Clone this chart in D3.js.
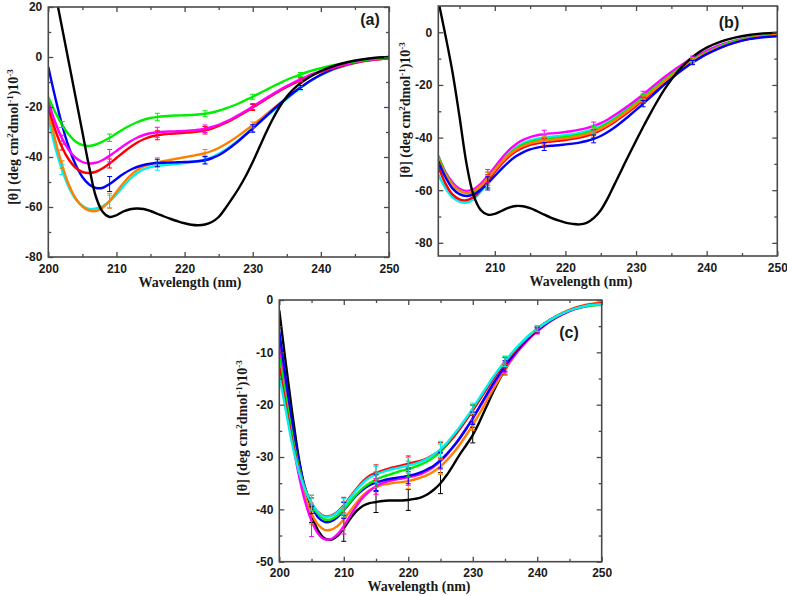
<!DOCTYPE html>
<html><head><meta charset="utf-8">
<script src="https://cdn.jsdelivr.net/npm/d3@7"></script>
<style>body{margin:0;background:#fff}</style>
</head><body>
<svg id="chart" width="787" height="596"></svg>
<script>
// ---------- DATA ----------
const wlA = [200,201,202,203,204,205,206,207,208,209,210,211,212,213,214,215,216,217,218,219,220,221,222,223,224,225,226,227,228,229,230,231,232,233,234,235,236,237,238,239,240,242,244,246,248,250];
const wlB = [202,203,204,205,206,207,208,209,210,211,212,213,214,215,216,217,218,219,220,221,222,223,224,225,226,227,228,229,230,231,232,233,234,235,236,237,238,239,240,242,244,246,248,250];
const wlC = wlA.slice();

const aBlack   = [40,26,12,-2,-16,-30,-44,-56,-62,-64,-63.3,-61.8,-60.9,-60.6,-60.8,-61.6,-62.7,-63.8,-64.8,-65.7,-66.5,-67.1,-67.3,-67,-66,-64,-60.5,-56.5,-52.3,-47.5,-42,-36,-30,-24.5,-19.7,-15.8,-12.8,-10.5,-8.6,-7,-5.6,-3.5,-2,-1,-0.3,0];
const aGreen   = [-16,-22,-27,-31,-33.8,-35.2,-35.6,-35,-33.8,-32.3,-30.6,-28.9,-27.4,-26.1,-25.1,-24.4,-24,-23.7,-23.5,-23.4,-23.3,-23.2,-23,-22.7,-22.2,-21.5,-20.6,-19.6,-18.5,-17.2,-15.9,-14.5,-13.1,-11.7,-10.4,-9.1,-8,-7,-6,-5.2,-4.5,-3.2,-2.2,-1.3,-0.6,-0.2];
const aMagenta = [-17.5,-26,-32.5,-37.2,-40.3,-42,-42.6,-42.3,-41.2,-39.5,-37.6,-35.6,-33.8,-32.3,-31.2,-30.5,-30.1,-29.9,-29.8,-29.7,-29.6,-29.4,-29.1,-28.7,-28,-27.1,-25.9,-24.6,-23.1,-21.5,-19.8,-18.1,-16.4,-14.7,-13.1,-11.6,-10.2,-8.9,-7.7,-6.6,-5.7,-4,-2.7,-1.6,-0.9,-0.5];
const aRed     = [-20,-29,-36,-41,-44.3,-46,-46.4,-45.9,-44.5,-42.6,-40.4,-38.2,-36.1,-34.3,-32.9,-31.9,-31.3,-30.9,-30.7,-30.5,-30.3,-30.1,-29.8,-29.3,-28.6,-27.6,-26.4,-25,-23.5,-21.9,-20.2,-18.5,-16.8,-15.1,-13.5,-12,-10.6,-9.2,-8,-6.9,-5.9,-4.2,-2.8,-1.7,-1,-0.5];
const aBlue    = [-4,-16,-27,-36,-43,-48,-51,-52.4,-52.3,-50.8,-48.8,-46.8,-45.2,-44,-43.2,-42.7,-42.4,-42.3,-42.2,-42.1,-42,-41.9,-41.7,-41.3,-40.5,-39.3,-37.6,-35.6,-33.4,-31,-28.6,-26.1,-23.6,-21.1,-18.7,-16.4,-14.2,-12.2,-10.3,-8.6,-7.1,-4.6,-2.8,-1.5,-0.6,0];
const aOrange  = [-21,-33,-43,-51,-56.5,-59.8,-61.4,-61.6,-60.2,-57.5,-54,-50.5,-47.5,-45.3,-43.8,-42.8,-42.1,-41.6,-41.1,-40.6,-40.1,-39.6,-39.1,-38.5,-37.6,-36.4,-34.9,-33.2,-31.3,-29.3,-27.2,-25.1,-22.9,-20.7,-18.5,-16.3,-14.2,-12.2,-10.3,-8.6,-7.1,-4.8,-3,-1.8,-1,-0.5];
const aCyan    = [-24,-36,-45,-52,-56.8,-59.5,-60.8,-60.6,-59.6,-57.8,-55,-51.8,-48.8,-46.5,-44.9,-44,-43.5,-43.2,-43,-42.7,-42.4,-42,-41.6,-41,-40,-38.7,-37.1,-35.2,-33.1,-30.9,-28.6,-26.2,-23.8,-21.4,-19,-16.7,-14.5,-12.4,-10.5,-8.8,-7.3,-4.9,-3.1,-1.8,-1,-0.5];
const errWlA = [202,209,216,223,230,237];
const aGreenErr   = [1.2,1.5,1.5,1.2,1,0.8];
const aMagentaErr = [1.2,2.5,2,1.5,1.2,0.8];
const aRedErr     = [1.2,1.8,1.8,1.5,1.2,0.8];
const aBlueErr    = [1.2,3,1.5,1.5,1.5,0.8];
const aOrangeErr  = [1.5,3,1.8,1.5,1.2,0.8];
const aCyanErr    = [2,2.5,1.8,1.5,1.2,0.8];

const bBlack   = [12,-1,-15,-32,-50,-62,-67.5,-69.3,-69,-67.8,-66.6,-66,-66.1,-66.8,-68,-69.3,-70.5,-71.5,-72.3,-72.8,-73,-72.4,-70.6,-67.6,-63,-57.5,-52,-46.5,-41.2,-36,-31,-26.2,-21.8,-17.9,-14.6,-11.8,-9.4,-7.4,-5.8,-3.5,-2,-1,-0.4,-0.1];
const bMagenta = [-47,-53,-57,-59.5,-60.3,-59.7,-57.6,-54.6,-51.2,-47.8,-44.8,-42.5,-40.9,-39.8,-39.1,-38.7,-38.4,-38.2,-37.9,-37.5,-37,-36.4,-35.6,-34.5,-33.1,-31.4,-29.6,-27.7,-25.7,-23.6,-21.4,-19.2,-17.1,-15.1,-13.2,-11.4,-9.8,-8.3,-7,-4.8,-3.2,-2,-1.1,-0.6];
const bCyan    = [-54,-59.2,-62.6,-64.3,-64.7,-63.4,-60.6,-56.8,-52.8,-49.1,-46.1,-43.8,-42.2,-41.1,-40.4,-40,-39.7,-39.4,-39.1,-38.7,-38.2,-37.6,-36.8,-35.6,-34.2,-32.5,-30.6,-28.6,-26.5,-24.4,-22.2,-20,-17.8,-15.7,-13.8,-12,-10.3,-8.8,-7.4,-5.1,-3.4,-2.1,-1.2,-0.7];
const bGreen   = [-47,-53.5,-57.8,-60.2,-61.1,-60.6,-58.6,-55.6,-52.3,-49.1,-46.3,-44.2,-42.7,-41.7,-41.1,-40.7,-40.4,-40.1,-39.8,-39.4,-38.9,-38.2,-37.3,-36.1,-34.6,-32.9,-31,-29,-26.9,-24.8,-22.6,-20.4,-18.2,-16.1,-14.1,-12.2,-10.5,-9,-7.6,-5.2,-3.4,-2.1,-1.2,-0.8];
const bOrange  = [-48,-54,-58,-60.2,-60.9,-60.3,-58.4,-55.6,-52.4,-49.3,-46.6,-44.6,-43.2,-42.2,-41.6,-41.2,-40.9,-40.6,-40.3,-39.9,-39.4,-38.7,-37.8,-36.6,-35.1,-33.4,-31.5,-29.5,-27.4,-25.3,-23.1,-20.9,-18.7,-16.6,-14.6,-12.7,-10.9,-9.3,-7.9,-5.5,-3.7,-2.4,-1.5,-1];
const bRed     = [-51,-57.4,-61.6,-63.5,-63.8,-62.6,-60,-56.6,-53.1,-49.9,-47.2,-45.2,-43.8,-42.8,-42.2,-41.8,-41.5,-41.2,-40.9,-40.5,-40,-39.3,-38.4,-37.2,-35.7,-34,-32.1,-30.1,-28,-25.8,-23.6,-21.4,-19.2,-17,-15,-13.1,-11.3,-9.7,-8.2,-5.7,-3.8,-2.5,-1.6,-1.1];
const bBlue    = [-49,-55,-59.3,-61.5,-62.2,-61.6,-59.8,-57.4,-54.6,-51.8,-49.2,-47.1,-45.6,-44.5,-43.8,-43.4,-43.1,-42.9,-42.6,-42.3,-41.9,-41.3,-40.5,-39.4,-37.9,-36.1,-34,-31.8,-29.5,-27.1,-24.7,-22.3,-19.9,-17.6,-15.4,-13.4,-11.5,-9.8,-8.3,-5.8,-3.9,-2.6,-1.9,-1.5];
const errWlB = [209,217,224,231,238];
const bErr   = [2.5,1.5,1.5,1.2,0.8];

const cBlack   = [-2,-12,-21.5,-30,-36.5,-41,-44,-45.5,-45.8,-45.1,-43.6,-41.8,-40.3,-39.3,-38.8,-38.6,-38.4,-38.3,-38.3,-38.3,-38.2,-38,-37.7,-37.1,-36.2,-35,-33.4,-31.5,-29.5,-27.7,-25.8,-23.4,-20.7,-18,-15.5,-13.3,-11.3,-9.5,-8,-6.7,-5.5,-3.8,-2.5,-1.6,-1,-0.6];
const cBlue    = [-6,-15,-23.5,-30.5,-35.8,-39.3,-41.5,-42.4,-42.3,-41.5,-40.2,-38.7,-37.3,-36.2,-35.4,-34.9,-34.5,-34.2,-34,-33.8,-33.6,-33.3,-32.9,-32.3,-31.6,-30.6,-29.4,-28,-26.4,-24.6,-22.6,-20.5,-18.4,-16.3,-14.4,-12.6,-11,-9.5,-8.1,-6.9,-5.8,-4,-2.6,-1.6,-1,-0.7];
const cCyan    = [-14.5,-21,-27.5,-32.5,-36.2,-38.8,-40.5,-41.4,-41.3,-40.6,-39.4,-37.8,-36.2,-34.9,-33.9,-33.3,-32.9,-32.5,-32.2,-31.9,-31.6,-31.3,-30.9,-30.3,-29.5,-28.5,-27.3,-25.8,-24.2,-22.5,-20.7,-18.8,-16.9,-15,-13.3,-11.7,-10.2,-8.8,-7.6,-6.5,-5.5,-3.8,-2.5,-1.6,-1,-0.8];
const cRed     = [-13,-20,-26.8,-32.2,-36.1,-38.8,-40.5,-41.3,-41.2,-40.5,-39.2,-37.6,-36,-34.6,-33.6,-33,-32.6,-32.2,-31.9,-31.6,-31.3,-31,-30.7,-30.2,-29.5,-28.7,-27.6,-26.2,-24.6,-22.9,-21.1,-19.2,-17.3,-15.4,-13.6,-12,-10.5,-9.1,-7.8,-6.6,-5.6,-3.8,-2.5,-1.5,-0.9,-0.6];
const cGreen   = [-11,-18.5,-25.8,-31.7,-36,-39,-40.9,-41.9,-41.9,-41.2,-40,-38.5,-37.1,-35.9,-35,-34.3,-33.8,-33.4,-33,-32.6,-32.3,-31.9,-31.4,-30.8,-30,-29,-27.7,-26.2,-24.6,-22.8,-21,-19.1,-17.1,-15.2,-13.4,-11.8,-10.3,-8.9,-7.6,-6.5,-5.5,-3.8,-2.5,-1.6,-1.1,-0.9];
const cOrange  = [-7.5,-16.5,-25,-32,-37.3,-40.8,-42.9,-43.9,-43.9,-43.2,-41.9,-40.3,-38.7,-37.3,-36.3,-35.7,-35.3,-35.1,-34.9,-34.8,-34.6,-34.3,-33.9,-33.4,-32.7,-31.8,-30.6,-29.2,-27.6,-25.8,-23.9,-21.8,-19.6,-17.4,-15.3,-13.3,-11.5,-9.8,-8.3,-7,-5.8,-3.8,-2.4,-1.4,-0.8,-0.4];
const cMagenta = [-9,-18,-26.5,-33.3,-38.5,-42.2,-44.6,-45.7,-45.7,-44.8,-43.2,-41.2,-39.3,-37.7,-36.5,-35.6,-35,-34.6,-34.3,-34.1,-33.9,-33.6,-33.2,-32.6,-31.8,-30.8,-29.5,-28,-26.3,-24.5,-22.6,-20.6,-18.6,-16.6,-14.7,-12.9,-11.3,-9.8,-8.4,-7.1,-6,-4.1,-2.7,-1.7,-1.1,-0.8];
const errWlC = [205,210,215,220,225,230,235,240];
const cBlackErr   = [1.5,2.5,2,2,2,1.5,1,0.5];
const cBlueErr    = [1.5,1.5,1.5,1.5,1.5,1.2,1,0.5];
const cCyanErr    = [1.5,1.5,1.5,1.5,1.5,1,1,0.5];
const cRedErr     = [1.5,1.5,1.5,1.5,1.5,1,1,0.5];
const cGreenErr   = [1.2,1.5,1.5,1.5,1.5,1,1,0.5];
const cOrangeErr  = [2,2,1.5,1.5,1.5,1,1,0.5];
const cMagentaErr = [3,1.5,1.5,1.5,1.5,1,1,0.5];

const xTicksMajor = [200,210,220,230,240,250];
const yTicksA = [20,0,-20,-40,-60,-80];
const yTicksB = [0,-20,-40,-60,-80];
const yTicksC = [0,-10,-20,-30,-40,-50];

const COL = {black:"#000000", blue:"#0000ff", cyan:"#00f0f0", orange:"#ff7f00", red:"#ff0000", magenta:"#ff00ff", green:"#00ee00"};

// ---------- DRAW ----------
const svg = d3.select("#chart");
svg.append("rect").attr("width",787).attr("height",596).attr("fill","#fff");

function drawPanel(p) {
  const g = svg.append("g");
  const x = d3.scaleLinear().domain(p.xd).range([p.left, p.right]);
  const y = d3.scaleLinear().domain(p.yd).range([p.bottom, p.top]);
  const cid = "clip" + p.id;
  svg.append("clipPath").attr("id", cid).append("rect")
    .attr("x", p.left).attr("y", p.top).attr("width", p.right - p.left).attr("height", p.bottom - p.top);

  const line = d3.line().x(d => x(d[0])).y(d => y(d[1])).curve(d3.curveCatmullRom.alpha(0.5));
  const lg = g.append("g").attr("clip-path", `url(#${cid})`);
  p.series.forEach(s => {
    const pts = p.wl.map((w, i) => [w, s.v[i]]);
    lg.append("path").attr("d", line(pts)).attr("fill","none")
      .attr("stroke", COL[s.c]).attr("stroke-width", 2.4).attr("stroke-linejoin","round");
  });
  p.series.forEach(s => {
    if (!s.e) return;
    p.ew.forEach((w, i) => {
      const idx = p.wl.indexOf(w);
      const v = s.v[idx], e = s.e[i];
      const xx = x(w);
      const eg = lg.append("g").attr("stroke", COL[s.c]).attr("stroke-width", 1);
      eg.append("line").attr("x1",xx).attr("x2",xx).attr("y1",y(v-e)).attr("y2",y(v+e));
      eg.append("line").attr("x1",xx-2.5).attr("x2",xx+2.5).attr("y1",y(v-e)).attr("y2",y(v-e));
      eg.append("line").attr("x1",xx-2.5).attr("x2",xx+2.5).attr("y1",y(v+e)).attr("y2",y(v+e));
    });
  });

  const axCol = "#4a4a4a";
  const xMinor = d3.range(205, 251, 10).filter(v => v > p.xd[0]);
  const yMinor = p.yMinor;
  const styleAxis = sel => {
    sel.select(".domain").remove();
    sel.selectAll(".tick line").attr("stroke", axCol).attr("stroke-width", 1.3);
    sel.selectAll("text").attr("fill", "#1a1a1a");
    sel.attr("font-family", "'Liberation Sans', Arial, sans-serif").attr("font-size", 12).attr("font-weight", "bold");
  };
  const fmt = d => String(d);
  // bottom
  g.append("g").attr("transform", `translate(0,${p.bottom})`)
    .call(d3.axisBottom(x).tickValues(xTicksMajor.filter(v => v >= p.xd[0])).tickSize(-5).tickSizeOuter(0).tickPadding(7).tickFormat(fmt)).call(styleAxis);
  g.append("g").attr("transform", `translate(0,${p.bottom})`)
    .call(d3.axisBottom(x).tickValues(xMinor).tickSize(-3).tickSizeOuter(0).tickFormat("")).call(styleAxis);
  // top
  g.append("g").attr("transform", `translate(0,${p.top})`)
    .call(d3.axisTop(x).tickValues(xTicksMajor.filter(v => v >= p.xd[0])).tickSize(-5).tickSizeOuter(0).tickFormat("")).call(styleAxis);
  g.append("g").attr("transform", `translate(0,${p.top})`)
    .call(d3.axisTop(x).tickValues(xMinor).tickSize(-3).tickSizeOuter(0).tickFormat("")).call(styleAxis);
  // left
  g.append("g").attr("transform", `translate(${p.left},0)`)
    .call(d3.axisLeft(y).tickValues(p.yTicks).tickSize(-5).tickSizeOuter(0).tickPadding(6).tickFormat(fmt)).call(styleAxis);
  g.append("g").attr("transform", `translate(${p.left},0)`)
    .call(d3.axisLeft(y).tickValues(yMinor).tickSize(-3).tickSizeOuter(0).tickFormat("")).call(styleAxis);
  // right
  g.append("g").attr("transform", `translate(${p.right},0)`)
    .call(d3.axisRight(y).tickValues(p.yTicks).tickSize(-5).tickSizeOuter(0).tickFormat("")).call(styleAxis);
  g.append("g").attr("transform", `translate(${p.right},0)`)
    .call(d3.axisRight(y).tickValues(yMinor).tickSize(-3).tickSizeOuter(0).tickFormat("")).call(styleAxis);

  g.append("rect").attr("x", p.left).attr("y", p.top).attr("width", p.right - p.left).attr("height", p.bottom - p.top)
    .attr("fill","none").attr("stroke", axCol).attr("stroke-width", 1.6);

  // x title
  g.append("text").attr("x", p.xt[0]).attr("y", p.xt[1]).attr("text-anchor","middle")
    .attr("font-family","'Liberation Serif', 'Times New Roman', serif").attr("font-weight","bold").attr("font-size",14)
    .attr("fill","#1a1a1a").text("Wavelength (nm)");
  // y title
  const yt = g.append("text").attr("transform", `translate(${p.yt[0]},${p.yt[1]}) rotate(-90)`).attr("text-anchor","middle")
    .attr("font-family","'Liberation Serif', 'Times New Roman', serif").attr("font-weight","bold").attr("font-size",14).attr("fill","#1a1a1a");
  yt.append("tspan").text("[θ] (deg cm");
  yt.append("tspan").attr("dy",-5).attr("font-size",9).text("2");
  yt.append("tspan").attr("dy",5).text("dmol");
  yt.append("tspan").attr("dy",-5).attr("font-size",9).text("-1");
  yt.append("tspan").attr("dy",5).text(")10");
  yt.append("tspan").attr("dy",-5).attr("font-size",9).text("-3");
  // panel letter
  g.append("text").attr("x", p.lab[0]).attr("y", p.lab[1]).attr("text-anchor","middle")
    .attr("font-family","'Liberation Sans', Arial, sans-serif").attr("font-weight","bold").attr("font-size",16)
    .attr("fill","#1a1a1a").text(p.label);
}

drawPanel({
  id:"a", label:"(a)", left:48.3, right:389, top:7, bottom:257, xd:[200,250], yd:[-80,20],
  yTicks:yTicksA, yMinor:[10,-10,-30,-50,-70], wl:wlA, ew:errWlA,
  xt:[190,287], yt:[18,137], lab:[370,25],
  series:[
    {c:"cyan", v:aCyan, e:aCyanErr}, {c:"orange", v:aOrange, e:aOrangeErr}, {c:"blue", v:aBlue, e:aBlueErr},
    {c:"red", v:aRed, e:aRedErr}, {c:"magenta", v:aMagenta, e:aMagentaErr}, {c:"green", v:aGreen, e:aGreenErr},
    {c:"black", v:aBlack, e:null}
  ]
});
drawPanel({
  id:"b", label:"(b)", left:438.3, right:777.3, top:6, bottom:256, xd:[202,250], yd:[-85,10],
  yTicks:yTicksB, yMinor:[-10,-30,-50,-70], wl:wlB, ew:errWlB,
  xt:[581,286], yt:[410,110], lab:[729,28],
  series:[
    {c:"cyan", v:bCyan, e:bErr}, {c:"magenta", v:bMagenta, e:bErr}, {c:"green", v:bGreen, e:bErr},
    {c:"red", v:bRed, e:bErr}, {c:"orange", v:bOrange, e:bErr}, {c:"blue", v:bBlue, e:bErr},
    {c:"black", v:bBlack, e:null}
  ]
});
drawPanel({
  id:"c", label:"(c)", left:279.3, right:601.7, top:300, bottom:561.7, xd:[200,250], yd:[-50,0],
  yTicks:yTicksC, yMinor:[-5,-15,-25,-35,-45], wl:wlC, ew:errWlC,
  xt:[419,591], yt:[247,428], lab:[569,338],
  series:[
    {c:"black", v:cBlack, e:cBlackErr}, {c:"orange", v:cOrange, e:cOrangeErr}, {c:"magenta", v:cMagenta, e:cMagentaErr},
    {c:"blue", v:cBlue, e:cBlueErr}, {c:"green", v:cGreen, e:cGreenErr}, {c:"red", v:cRed, e:cRedErr},
    {c:"cyan", v:cCyan, e:cCyanErr}
  ]
});
</script>
</body></html>
